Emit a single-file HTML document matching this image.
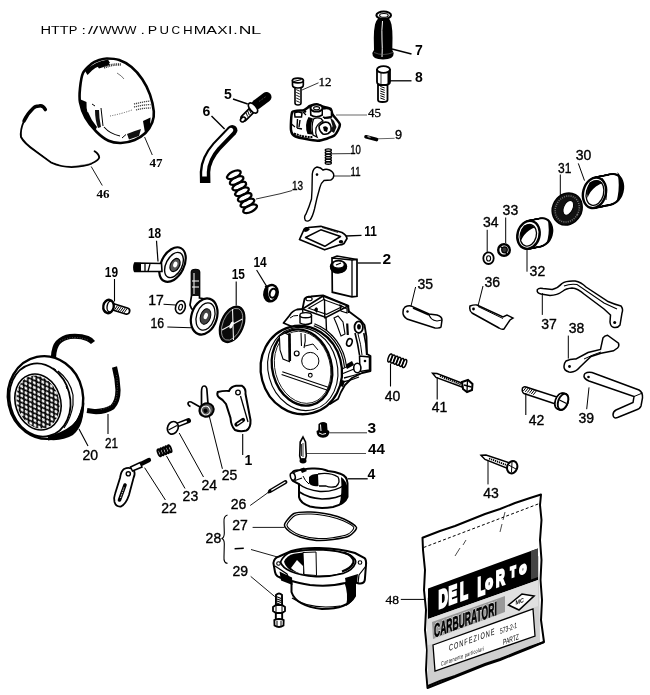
<!DOCTYPE html>
<html><head><meta charset="utf-8"><style>
html,body{margin:0;padding:0;background:#fff;}
svg{display:block;will-change:transform;}
</style></head><body>
<svg width="650" height="695" viewBox="0 0 650 695">
<rect width="650" height="695" fill="#fff"/>
<g font-family="Liberation Sans" font-size="10.6"><text transform="translate(40.60 33.8) scale(1.384 1)">H</text><text transform="translate(51.09 33.8) scale(1.350 1)">T</text><text transform="translate(59.68 33.8) scale(1.367 1)">T</text><text transform="translate(68.84 33.8) scale(1.224 1)">P</text><text transform="translate(81.55 33.8) scale(1.500 1)">:</text><text transform="translate(88.00 33.8) scale(1.697 1)">/</text><text transform="translate(92.80 33.8) scale(1.866 1)">/</text><text transform="translate(99.14 33.8) scale(1.221 1)">W</text><text transform="translate(111.23 33.8) scale(1.302 1)">W</text><text transform="translate(124.14 33.8) scale(1.221 1)">W</text><text transform="translate(140.55 33.8) scale(1.500 1)">.</text><text transform="translate(147.84 33.8) scale(1.330 1)">P</text><text transform="translate(159.48 33.8) scale(1.246 1)">U</text><text transform="translate(171.40 33.8) scale(1.118 1)">C</text><text transform="translate(182.90 33.8) scale(1.266 1)">H</text><text transform="translate(193.75 33.8) scale(1.438 1)">M</text><text transform="translate(206.27 33.8) scale(1.523 1)">A</text><text transform="translate(217.24 33.8) scale(1.469 1)">X</text><text transform="translate(228.04 33.8) scale(1.500 1)">I</text><text transform="translate(233.35 33.8) scale(1.500 1)">.</text><text transform="translate(238.76 33.8) scale(1.654 1)">N</text><text transform="translate(251.09 33.8) scale(1.733 1)">L</text></g><path d="M106.9,58.5 C110.2,58.5 115.1,58.6 119.2,60.0 C123.3,61.4 127.7,63.8 131.5,67.0 C135.3,70.2 139.2,74.6 142.3,79.2 C145.4,83.8 148.1,89.2 150.0,94.6 C151.9,100.0 153.4,106.9 153.8,111.5 C154.2,116.1 153.7,118.7 152.3,122.3 C150.9,125.9 148.4,130.1 145.4,133.0 C142.4,135.9 138.7,138.3 134.6,140.0 C130.5,141.7 125.1,142.9 120.8,143.0 C116.5,143.1 112.6,142.7 108.5,140.8 C104.4,138.9 100.0,135.3 96.2,131.5 C92.4,127.7 88.1,122.6 85.4,117.7 C82.7,112.8 80.9,107.2 80.0,102.3 C79.1,97.4 79.5,93.4 80.0,88.5 C80.5,83.6 81.1,77.1 83.0,73.0 C84.9,68.9 88.8,66.0 91.5,63.8 C94.2,61.6 96.6,60.9 99.2,60.0 C101.8,59.1 103.6,58.5 106.9,58.5Z" fill="#fff" stroke="#000" stroke-width="2.6"/><path d="M85,71 Q94,61.5 108,59.5 L110,63 Q99,64.5 92,70.5 L87.5,75 Z" fill="#000"/><path d="M97,66 L108,61.5 L110,65 L99,68.5 Z" fill="#000"/><path d="M104,67.5 Q112,64 121,64.5" fill="none" stroke="#333" stroke-width="2.6" stroke-dasharray="1 0.8"/><path d="M79.5,99 Q80,110 85,117 L88,115 Q86,108 86.5,102 Z" fill="#000"/><path d="M84,113 Q88,123 95,131 L97,127 Q91,120 88,112 Z" fill="#000"/><path d="M95,110 Q95,120 98,128 L101,127 Q99,118 99,110 Z" fill="#111"/><path d="M101,108 L103,126" stroke="#000" stroke-width="1"/><path d="M92,104 L95,106" stroke="#000" stroke-width="1"/><path d="M143,121 L150.5,117.5 L150,127 L145,133 Z" fill="#000"/><path d="M127,134 Q134,131 141,129 L139,136 L129,139.5 Z" fill="#111"/><path d="M122,138 L126,134.5" stroke="#000" stroke-width="1"/><path d="M104,127 Q110,134 120,136" fill="none" stroke="#000" stroke-width="1.1"/><path d="M134,104 Q142,102 150,101 M134,107 Q142,105 150.5,104.5 M136,110 Q143,108 150.5,108" fill="none" stroke="#444" stroke-width="1.3" stroke-dasharray="1.2 0.8"/><path d="M110,116 Q121,114 132,110" fill="none" stroke="#555" stroke-width="1" stroke-dasharray="1 1.4"/><path d="M117,73 Q122,76 124,79" fill="none" stroke="#555" stroke-width="0.8"/><path d="M144.6,137 L152.3,155" fill="none" stroke="#000" stroke-width="0.9"/><text x="149.5" y="167.3" font-family="Liberation Serif" font-weight="bold" font-size="13">47</text><path d="M45.4,109.6 Q43,105 39,106 Q35,106 33,108.5 Q27,114 24,121 Q20,130 21,137 Q24,143 34.6,150.4 L51.5,162.7 Q61,167 71.5,167 Q85,166 91.5,163.5 Q99,160 99.2,157.5 Q99,154 94.6,151.2" fill="none" stroke="#000" stroke-width="1.9" stroke-linecap="round" stroke-linejoin="round"/><path d="M45.4,109.6 Q43,105 39,106 Q35,106 33,108.5 Q27,114 24,121" fill="none" stroke="#000" stroke-width="3.4" stroke-linecap="round"/><path d="M24,135 Q25,141 35,149 L52,161.5 Q61,165.8 71.5,165.8 Q85,165 91.5,162.5" fill="none" stroke="#fff" stroke-width="0.6"/><path d="M91.2,166.5 L102.3,185.5" fill="none" stroke="#000" stroke-width="0.9"/><text x="96.5" y="197.6" font-family="Liberation Serif" font-weight="bold" font-size="13">46</text><path d="M378.5,18 Q376,20.5 375,24.5 Q373.8,30 373.8,38 L374,50 L372.3,53 Q372,59.5 383,59.5 Q394,59.5 393.7,53 L392.3,50 L392.5,38 Q392.5,30 391.5,24.5 Q390.5,20.5 388.7,18 Z" fill="#000"/><ellipse cx="383.7" cy="15.2" rx="7.3" ry="3.7" fill="#fff" stroke="#000" stroke-width="2.1"/><ellipse cx="383.9" cy="15.4" rx="4.3" ry="1.9" fill="#fff" stroke="#000" stroke-width="1.1"/><path d="M382.5,21 Q381.5,30 382,40 Q382.5,48 382,57" fill="none" stroke="#fff" stroke-width="1"/><path d="M374,52.5 Q383,56.5 393,52.5" fill="none" stroke="#777" stroke-width="0.6"/><path d="M392,49 L411.5,54" fill="none" stroke="#000" stroke-width="1.3"/><text x="415" y="55.2" font-family="Liberation Sans" font-weight="bold" font-size="14">7</text><path d="M378,85 L378,100 Q378,102 382.5,102 Q387.5,102 387.5,100 L387.5,85 Z" fill="#fff" stroke="#000" stroke-width="1.8"/><path d="M384.7,88.0L380.3,86.4M384.7,90.3L380.3,88.7M384.7,92.6L380.3,91.0M384.7,95.0L380.3,93.4M384.7,97.3L380.3,95.7M384.7,99.6L380.3,98.0" stroke="#000" stroke-width="1.0" fill="none"/><path d="M377,70 L377,82 Q377,85 383.5,85 Q390,85 390,82 L390,70 Z" fill="#fff" stroke="#000" stroke-width="1.8"/><rect x="387.5" y="70" width="2.5" height="14" fill="#000"/><ellipse cx="383.5" cy="69.5" rx="6.5" ry="3.3" fill="#fff" stroke="#000" stroke-width="1.8"/><path d="M381,72 L381,84" stroke="#000" stroke-width="0.8"/><path d="M390,80.8 L411.5,80.8" fill="none" stroke="#000" stroke-width="1.3"/><text x="415" y="82.2" font-family="Liberation Sans" font-weight="bold" font-size="14">8</text><path d="M295,87 L295,103 Q295,105 298,105 Q301,105 301,103 L301,87 Z" fill="#fff" stroke="#000" stroke-width="1.6"/><path d="M299.8,91.2L296.2,89.6M299.8,94.0L296.2,92.4M299.8,96.8L296.2,95.2M299.8,99.6L296.2,98.0M299.8,102.4L296.2,100.8" stroke="#000" stroke-width="0.9" fill="none"/><path d="M292.5,80.5 L292.5,85 Q292.5,88 298,88 Q303.3,88 303.3,85 L303.3,80.5 Z" fill="#fff" stroke="#000" stroke-width="1.7"/><ellipse cx="297.9" cy="80.5" rx="5.4" ry="2.4" fill="#fff" stroke="#000" stroke-width="1.7"/><path d="M294,81.5 L301.5,79.5" stroke="#000" stroke-width="1.1"/><path d="M302,90 L318.5,82.8" fill="none" stroke="#000" stroke-width="0.8"/><text x="318.6" y="86.3" font-family="Liberation Serif" font-weight="normal" stroke="#000" stroke-width="0.3" font-size="13">12</text><path d="M292.3,112.0 C293.6,110.0 302.0,110.8 303.8,110.2 C305.6,109.6 308.6,106.6 309.9,106.0 C311.2,105.4 315.6,104.2 316.8,104.2 C318.0,104.2 320.9,106.0 322.3,106.5 C323.7,107.0 329.6,108.0 330.6,108.8 C331.6,109.6 331.6,112.8 332.5,114.4 C333.4,116.0 339.7,122.4 339.9,124.5 C340.1,126.6 336.5,134.0 334.3,135.6 C332.1,137.2 321.6,140.6 317.7,140.7 C313.8,140.8 298.2,137.6 295.5,136.5 C292.8,135.4 291.3,132.4 291.0,130.0 C290.7,127.5 291.0,114.0 292.3,112.0Z" fill="#fff" stroke="#000" stroke-width="2.5"/><path d="M310.5,108 L310.8,115 Q316,118.5 322.3,115 L322.5,108" fill="#fff" stroke="#000" stroke-width="1.6"/><ellipse cx="316.5" cy="108" rx="6" ry="3.6" fill="#fff" stroke="#000" stroke-width="2"/><ellipse cx="316.6" cy="108.2" rx="3" ry="1.6" fill="none" stroke="#000" stroke-width="1.1"/><path d="M323,109 Q329,107 331.5,111 L331.5,117 Q327,119 323,117" fill="#fff" stroke="#000" stroke-width="1.6"/><path d="M308.5,117 Q304,125 307.5,134 L312.5,134.5 Q309.5,126 313,118.5 Z" fill="#000"/><path d="M313.5,119 Q317,117 321,118.5 L323,121 Q318,123 316,128 Q315,133 317,137 L313,135 Q311,126 313.5,119 Z" fill="#fff" stroke="#000" stroke-width="1.3"/><path d="M319,126 Q323,121 328,122.5 Q332,125 331,131 Q328,135 323,134 Q319,131 319,126 Z" fill="#fff" stroke="#000" stroke-width="1.6"/><path d="M323,127 Q326,125 328,128 L327,132 L324,131 Z" fill="#000"/><path d="M330,117 L334,121 L336.5,127 L334,133 L331,131 L332.5,126 Z" fill="#111"/><path d="M324,118 L331,117" stroke="#000" stroke-width="2"/><path d="M294.5,113 Q298,111 302,113 L301.5,117 L295,117 Z" fill="#fff" stroke="#000" stroke-width="1.5"/><path d="M297.5,119 L297,128 M300,120 L299,127 M297,128 L302,129" stroke="#000" stroke-width="1.4"/><path d="M294,133.5 Q304,137.5 313,137" fill="none" stroke="#000" stroke-width="2" stroke-dasharray="2 0.8"/><path d="M303,112 L306,115 M291.5,124 L295,127" stroke="#000" stroke-width="1.2"/><circle cx="305" cy="111.5" r="1.3" fill="#000"/><path d="M336,115 L367,115" fill="none" stroke="#000" stroke-width="0.6"/><text x="368" y="117" font-family="Liberation Serif" font-weight="normal" stroke="#000" stroke-width="0.3" font-size="13">45</text><line x1="366" y1="136.8" x2="376.5" y2="139.6" stroke="#000" stroke-width="3.6" stroke-linecap="round"/><line x1="367.5" y1="136.6" x2="370.5" y2="137.3" stroke="#fff" stroke-width="0.8"/><path d="M377,138.8 L394.6,138.3" fill="none" stroke="#000" stroke-width="0.6"/><text x="0" y="0" transform="translate(395 138.8) scale(1.02 1)" font-family="Liberation Sans" font-weight="normal" stroke="#000" stroke-width="0.35" font-size="12.5">9</text><ellipse cx="328.3" cy="150.1" rx="1.25" ry="3.10" transform="rotate(90.0 328.3 150.1)" fill="none" stroke="#000" stroke-width="1.3"/><ellipse cx="328.3" cy="152.7" rx="1.25" ry="3.10" transform="rotate(90.0 328.3 152.7)" fill="none" stroke="#000" stroke-width="1.3"/><ellipse cx="328.3" cy="155.3" rx="1.25" ry="3.10" transform="rotate(90.0 328.3 155.3)" fill="none" stroke="#000" stroke-width="1.3"/><ellipse cx="328.3" cy="157.8" rx="1.25" ry="3.10" transform="rotate(90.0 328.3 157.8)" fill="none" stroke="#000" stroke-width="1.3"/><ellipse cx="328.3" cy="160.4" rx="1.25" ry="3.10" transform="rotate(90.0 328.3 160.4)" fill="none" stroke="#000" stroke-width="1.3"/><ellipse cx="328.3" cy="163.0" rx="1.25" ry="3.10" transform="rotate(90.0 328.3 163.0)" fill="none" stroke="#000" stroke-width="1.3"/><path d="M331.5,153.8 L350.8,153.6" fill="none" stroke="#000" stroke-width="0.8"/><text x="0" y="0" transform="translate(350.2 153.6) scale(0.8 1)" font-family="Liberation Sans" font-weight="normal" stroke="#000" stroke-width="0.35" font-size="12">10</text><path d="M305.4,220.5 Q303.5,217 306,214 Q309.5,206 311.5,199 L312,190 L312.3,174 Q313,168 317,167 Q321,167.5 323,170 Q326,168.5 329.5,170 Q333.8,172 333.8,175.5 Q333.5,179 330.8,180 L324,180.5 Q321,183 320,187 Q316.5,199 314.5,209 Q312.5,217 310,220 Q307.5,222 305.4,220.5 Z" fill="#fff" stroke="#000" stroke-width="1.4"/><circle cx="317" cy="174.6" r="1.3" fill="#000"/><path d="M333.8,176 L350.8,176" fill="none" stroke="#000" stroke-width="0.8"/><text x="0" y="0" transform="translate(350.6 176.2) scale(0.8 1)" font-family="Liberation Sans" font-weight="normal" stroke="#000" stroke-width="0.35" font-size="12">11</text><ellipse cx="233.9" cy="174.8" rx="3.30" ry="7.40" transform="rotate(64.3 233.9 174.8)" fill="none" stroke="#000" stroke-width="2.3"/><ellipse cx="236.6" cy="180.5" rx="3.30" ry="7.40" transform="rotate(64.3 236.6 180.5)" fill="none" stroke="#000" stroke-width="2.3"/><ellipse cx="239.3" cy="186.1" rx="3.30" ry="7.40" transform="rotate(64.3 239.3 186.1)" fill="none" stroke="#000" stroke-width="2.3"/><ellipse cx="242.0" cy="191.8" rx="3.30" ry="7.40" transform="rotate(64.3 242.0 191.8)" fill="none" stroke="#000" stroke-width="2.3"/><ellipse cx="244.7" cy="197.4" rx="3.30" ry="7.40" transform="rotate(64.3 244.7 197.4)" fill="none" stroke="#000" stroke-width="2.3"/><ellipse cx="247.4" cy="203.0" rx="3.30" ry="7.40" transform="rotate(64.3 247.4 203.0)" fill="none" stroke="#000" stroke-width="2.3"/><ellipse cx="250.1" cy="208.7" rx="3.30" ry="7.40" transform="rotate(64.3 250.1 208.7)" fill="none" stroke="#000" stroke-width="2.3"/><path d="M256,199 L280,193.8 L292.3,190.5" fill="none" stroke="#000" stroke-width="0.8"/><text x="0" y="0" transform="translate(292 190) scale(0.8 1)" font-family="Liberation Sans" font-weight="normal" stroke="#000" stroke-width="0.35" font-size="12.5">13</text><line x1="244" y1="118" x2="251.5" y2="110.5" stroke="#000" stroke-width="7.5" stroke-linecap="round"/><line x1="244.5" y1="117.5" x2="251.5" y2="110.5" stroke="#fff" stroke-width="4" stroke-linecap="round"/><path d="M246.0,112.7L247.7,116.6M247.7,111.0L249.3,115.0M249.3,109.4L251.0,113.3" stroke="#000" stroke-width="1.0" fill="none"/><line x1="256.5" y1="104.5" x2="266.5" y2="97" stroke="#000" stroke-width="10" stroke-linecap="round"/><path d="M259,101.5 L266,96.5" stroke="#555" stroke-width="1" stroke-dasharray="1 1"/><ellipse cx="253" cy="108" rx="3.2" ry="6" transform="rotate(-40 253 108)" fill="#fff" stroke="#000" stroke-width="1.8"/><ellipse cx="243" cy="119.5" rx="2.8" ry="2" transform="rotate(-40 243 119.5)" fill="#fff" stroke="#000" stroke-width="1.6"/><path d="M233,99 L247.7,104" fill="none" stroke="#000" stroke-width="1.4"/><text x="224" y="99" font-family="Liberation Sans" font-weight="bold" font-size="14">5</text><path d="M232,130.5 L217,146 Q205.5,159 205,172 L205.2,183" fill="none" stroke="#000" stroke-width="10.5" stroke-linecap="butt"/><circle cx="232.2" cy="130.3" r="5.25" fill="#000"/><path d="M231,130.2 L216.2,145.6 Q205,158.5 204.5,172 L204.5,177" fill="none" stroke="#fff" stroke-width="4.6" stroke-linecap="round"/><rect x="201.5" y="176.5" width="7.5" height="5" fill="#000"/><path d="M211.5,116 L224.6,129" fill="none" stroke="#000" stroke-width="1.4"/><text x="202.5" y="116" font-family="Liberation Sans" font-weight="bold" font-size="14">6</text><path d="M299.5,239.5 L304,229.5 Q305,227.5 308,227.5 L320.8,226.3 L342,232.5 Q346.5,235 347,238.5 L344,243.5 Q342,245 339,245 L324.6,249.8 Z" fill="#fff" stroke="#000" stroke-width="1.7" stroke-linejoin="round"/><path d="M305.5,237.5 L320.8,229.8 L340.5,236.5 L324.8,246.3 Z" fill="#fff" stroke="#000" stroke-width="1.5" stroke-linejoin="round"/><path d="M303.5,229 Q307,226.5 310,229 Q308,232 304.5,232 Z" fill="#000"/><ellipse cx="341" cy="241.8" rx="2.2" ry="1.7" fill="#000"/><path d="M322,227.5 L338,232.5" stroke="#000" stroke-width="0.8"/><path d="M346,236 L361.5,235.3" fill="none" stroke="#000" stroke-width="1.3"/><text x="0" y="0" transform="translate(364.2 236.2) scale(0.85 1)" font-family="Liberation Sans" font-weight="bold" font-size="14">11</text><path d="M332,258 L352,260 L357,259.5 L357,296.3 L352,296.8 L332.3,292.2 Z" fill="#fff" stroke="#000" stroke-width="1.7"/><path d="M352,260 L352,296.8" stroke="#000" stroke-width="1.3"/><path d="M332,258 L337,256 L357,259.5" fill="none" stroke="#000" stroke-width="1.5"/><ellipse cx="338.5" cy="266.5" rx="8" ry="6" fill="#000" stroke="#000" stroke-width="1.5"/><ellipse cx="338.5" cy="264.6" rx="5.8" ry="3.6" fill="#fff" stroke="#000" stroke-width="1.2"/><path d="M336,265 L341,263" stroke="#000" stroke-width="1.2"/><path d="M331,268 Q333,273 339,272.5 Q344,272 346,268" fill="none" stroke="#000" stroke-width="2.2"/><path d="M357.7,263 L380.8,263" fill="none" stroke="#000" stroke-width="1.3"/><text x="382.4" y="263.9" font-family="Liberation Sans" font-weight="bold" font-size="15.5">2</text><ellipse cx="172.5" cy="264.6" rx="11.5" ry="18.5" transform="rotate(27 172.5 264.6)" fill="#fff" stroke="#000" stroke-width="2.2"/><ellipse cx="174" cy="265" rx="8" ry="13.5" transform="rotate(27 174 265)" fill="none" stroke="#000" stroke-width="1.4"/><ellipse cx="175" cy="265" rx="4.5" ry="7" transform="rotate(27 175 265)" fill="#555" stroke="#000" stroke-width="1.2"/><ellipse cx="175.3" cy="264.5" rx="2" ry="3" transform="rotate(20 175.3 264.5)" fill="#fff"/><path d="M135,263 L161.5,263.5 L162,271.5 L135,271.5 Z" fill="#fff" stroke="#000" stroke-width="1.6"/><path d="M134,262.8 L141,262.8 L141,272 L134,272 Q132,267.5 134,262.8 Z" fill="#000"/><path d="M145,263 L145,271.5 M150,264 L148,271.5" stroke="#000" stroke-width="1.3"/><path d="M156.5,240.8 L158,261.5" fill="none" stroke="#000" stroke-width="1.2"/><text x="0" y="0" transform="translate(148 237.7) scale(0.85 1)" font-family="Liberation Sans" font-weight="bold" font-size="14">18</text><line x1="112" y1="306.5" x2="126.5" y2="311" stroke="#000" stroke-width="8" stroke-linecap="round"/><line x1="112" y1="306.5" x2="126.5" y2="311" stroke="#fff" stroke-width="4.5" stroke-linecap="round"/><path d="M117.4,305.7L114.5,309.9M119.3,306.3L116.4,310.4M121.3,306.9L118.3,311.0M123.2,307.5L120.2,311.6M125.1,308.1L122.2,312.2M127.0,308.6L124.1,312.8" stroke="#000" stroke-width="1.0" fill="none"/><ellipse cx="108.5" cy="306.5" rx="5.2" ry="6.8" transform="rotate(10 108.5 306.5)" fill="#fff" stroke="#000" stroke-width="2.3"/><ellipse cx="110.5" cy="306.5" rx="3.4" ry="5.5" transform="rotate(10 110.5 306.5)" fill="none" stroke="#000" stroke-width="1.4"/><path d="M104,303 L107,301 M104,310 L106.5,312" stroke="#000" stroke-width="1.2"/><path d="M114.5,279 L114.5,301.5" fill="none" stroke="#000" stroke-width="1.1"/><text x="0" y="0" transform="translate(104.8 277) scale(0.85 1)" font-family="Liberation Sans" font-weight="bold" font-size="14">19</text><ellipse cx="180.4" cy="307.2" rx="4.8" ry="6.6" transform="rotate(15 180.4 307.2)" fill="#fff" stroke="#000" stroke-width="1.6"/><ellipse cx="180.6" cy="307.2" rx="1.8" ry="3" transform="rotate(15 180.6 307.2)" fill="none" stroke="#000" stroke-width="1.2"/><path d="M163.5,304.3 L175.8,305" fill="none" stroke="#000" stroke-width="1.1"/><text x="148.2" y="305" font-family="Liberation Sans" font-weight="normal" stroke="#000" stroke-width="0.35" font-size="14">17</text><path d="M191.5,272 L191.5,296 L190,305 Q192,312 199,312 L212,305 Q206,298 199.5,298 L199.5,272 Q199.5,269.5 195.5,269.5 Q191.5,269.5 191.5,272 Z" fill="#fff" stroke="#000" stroke-width="1.7"/><path d="M191.5,272 L191.5,296 L199.5,296 L199.5,272 Q199.5,269.5 195.5,269.5 Q191.5,269.5 191.5,272 Z" fill="#111"/><path d="M194,273 L194,294 M192,281 L199,281 M192,287 L199,287" stroke="#fff" stroke-width="1"/><ellipse cx="204.2" cy="316.5" rx="12.7" ry="18.5" transform="rotate(18 204.2 316.5)" fill="#fff" stroke="#000" stroke-width="2.2"/><ellipse cx="205.5" cy="316.5" rx="9" ry="14" transform="rotate(18 205.5 316.5)" fill="none" stroke="#000" stroke-width="1.3"/><ellipse cx="205.5" cy="316.5" rx="5" ry="8" transform="rotate(18 205.5 316.5)" fill="#444" stroke="#000" stroke-width="1"/><ellipse cx="205.8" cy="316" rx="2" ry="3.2" transform="rotate(18 205.8 316)" fill="#fff"/><path d="M167.3,327 L191,327.7" fill="none" stroke="#000" stroke-width="1.1"/><text x="0" y="0" transform="translate(150.5 327.7) scale(0.88 1)" font-family="Liberation Sans" font-weight="normal" stroke="#000" stroke-width="0.35" font-size="14">16</text><ellipse cx="232.1" cy="324.3" rx="11.3" ry="19" transform="rotate(22 232.1 324.3)" fill="#0a0a0a" stroke="#000" stroke-width="1.5"/><ellipse cx="232.1" cy="324.3" rx="9.3" ry="16.8" transform="rotate(22 232.1 324.3)" fill="none" stroke="#bbb" stroke-width="0.7"/><path d="M222,330 L242.4,319 M232.5,309 L233.5,340" stroke="#eee" stroke-width="1.1"/><ellipse cx="231.5" cy="325" rx="1.6" ry="3.8" transform="rotate(22 231.5 325)" fill="#fff"/><path d="M236.2,281.5 L236.2,305.4" fill="none" stroke="#000" stroke-width="1.1"/><text x="0" y="0" transform="translate(231.7 279.2) scale(0.85 1)" font-family="Liberation Sans" font-weight="bold" font-size="14">15</text><ellipse cx="271" cy="293.2" rx="6.6" ry="8.3" transform="rotate(15 271 293.2)" fill="#fff" stroke="#000" stroke-width="2.4"/><path d="M264.5,290 Q263,298 267,301.5 Q270,302.5 272,301.5 Q267,297 268.5,287.5 Z" fill="#000"/><ellipse cx="273" cy="293.2" rx="3.2" ry="4.6" transform="rotate(15 273 293.2)" fill="#fff" stroke="#000" stroke-width="2"/><path d="M265,287 L267,286" stroke="#000" stroke-width="1.5"/><path d="M256.6,270 L266.8,286.6" fill="none" stroke="#000" stroke-width="1.1"/><text x="0" y="0" transform="translate(253.5 267) scale(0.85 1)" font-family="Liberation Sans" font-weight="bold" font-size="14">14</text><ellipse cx="45.5" cy="397.5" rx="37.5" ry="41.5" transform="rotate(-12 45.5 397.5)" fill="#fff" stroke="#000" stroke-width="2.4"/><path d="M52,436 Q70,432 78,418 L83.5,402 Q85,425 73,435 Q63,441 50,440 Z" fill="#000"/><ellipse cx="40" cy="400" rx="30" ry="37" transform="rotate(-15 40 400)" fill="#fff" stroke="#000" stroke-width="1.8"/><path d="M58,371 Q70,380 73,395 L73,405 Q71,418 64,428" fill="none" stroke="#000" stroke-width="1.2"/><ellipse cx="38" cy="402" rx="22.5" ry="28.5" transform="rotate(-18 38 402)" fill="#fff" stroke="#000" stroke-width="1.6"/><defs><pattern id="mesh" width="5" height="8" patternUnits="userSpaceOnUse" patternTransform="rotate(-15)"><rect width="5" height="8" fill="#fff"/><path d="M0,0 L2.5,4 L0,8 M5,0 L2.5,4 L5,8" fill="none" stroke="#000" stroke-width="1.6"/></pattern></defs><ellipse cx="38" cy="402" rx="21" ry="27" transform="rotate(-18 38 402)" fill="url(#mesh)"/><path d="M53,368 L56,370 M60,376 L62,378 M66,386 L67,389" stroke="#000" stroke-width="1"/><path d="M48,440.5 Q66,439 77,428 Q84,418 84.5,402 Q81,417 72,425 Q62,433 48,436 Z" fill="#000"/><path d="M79,429 L88,446" fill="none" stroke="#000" stroke-width="1.1"/><text x="82.5" y="459.6" font-family="Liberation Sans" font-weight="normal" stroke="#000" stroke-width="0.35" font-size="14">20</text><path d="M53.5,357 Q54,347 58,342.5 Q63,337.5 70,336.5 Q80,335.5 87.5,338.5 Q91,340 93,342.5" fill="none" stroke="#000" stroke-width="5.2" stroke-linecap="butt"/><path d="M60,341 Q66,338 74,337.5 Q82,337.5 88,340" fill="none" stroke="#777" stroke-width="0.7" stroke-dasharray="1 1.5"/><path d="M114.5,367 Q117.5,378 118,390 Q118,401 112.5,407 Q105,412 94,411.5 L87,410.5" fill="none" stroke="#000" stroke-width="5.2" stroke-linecap="butt"/><path d="M116.5,375 Q118.5,388 116,400 Q111,408 100,409.5" fill="none" stroke="#777" stroke-width="0.7" stroke-dasharray="1 1.5"/><path d="M108,414 L108,434" fill="none" stroke="#000" stroke-width="1.1"/><text x="0" y="0" transform="translate(105 448) scale(0.84 1)" font-family="Liberation Sans" font-weight="normal" stroke="#000" stroke-width="0.35" font-size="14">21</text><path d="M217.7,392 Q224,390.5 229,391 Q231,386.5 236,385.8 L242,385.8 Q246,388 245.5,394 L250.5,420 Q251,428 246.3,430.5 Q240,432 235,430 Q231,426 230.5,418 L226,404 Q223,399.5 219,397.5 Q216.5,395 217.7,392 Z" fill="#fff" stroke="#000" stroke-width="2"/><circle cx="238" cy="392.5" r="2.3" fill="none" stroke="#000" stroke-width="1.3"/><path d="M240.5,396 L248,422" stroke="#000" stroke-width="1.3"/><path d="M236.5,424.5 L243,420" stroke="#000" stroke-width="4.2" stroke-linecap="round"/><path d="M237.5,424 L242,421" stroke="#fff" stroke-width="1.2" stroke-linecap="round"/><path d="M242.7,434 L242.7,455" fill="none" stroke="#000" stroke-width="1.1"/><text x="244.5" y="465.4" font-family="Liberation Sans" font-weight="bold" font-size="14">1</text><path d="M201.5,406 L201.5,392 Q201.5,386 204,386 Q207,386 207,391 L208,404" fill="none" stroke="#000" stroke-width="1.7"/><path d="M200,407 L193,403 Q189,400.5 188,403 Q188,405.5 190.5,406.5" fill="none" stroke="#000" stroke-width="1.7"/><ellipse cx="206.5" cy="410" rx="7.3" ry="6.6" transform="rotate(-30 206.5 410)" fill="#555" stroke="#000" stroke-width="2"/><ellipse cx="205.8" cy="410.5" rx="4.2" ry="4.4" transform="rotate(-30 205.8 410.5)" fill="none" stroke="#fff" stroke-width="1"/><ellipse cx="205.5" cy="410.7" rx="2" ry="2.2" transform="rotate(-30 205.5 410.7)" fill="#000"/><path d="M209.2,415.8 L222.4,468.8" fill="none" stroke="#000" stroke-width="1.0"/><text x="221.8" y="480.4" font-family="Liberation Sans" font-weight="normal" stroke="#000" stroke-width="0.35" font-size="14">25</text><line x1="176" y1="425.5" x2="188.5" y2="420.6" stroke="#000" stroke-width="5" stroke-linecap="round"/><line x1="176" y1="425.5" x2="186" y2="421.6" stroke="#fff" stroke-width="2" stroke-linecap="round"/><ellipse cx="172.8" cy="427.8" rx="5.2" ry="6.5" transform="rotate(25 172.8 427.8)" fill="#fff" stroke="#000" stroke-width="1.7"/><path d="M168.5,430 L177,425.5" stroke="#000" stroke-width="1.3"/><path d="M179.2,433 L203.5,477" fill="none" stroke="#000" stroke-width="1.0"/><text x="201.5" y="489.6" font-family="Liberation Sans" font-weight="normal" stroke="#000" stroke-width="0.35" font-size="14">24</text><ellipse cx="159.3" cy="452.8" rx="1.30" ry="3.80" transform="rotate(-21.4 159.3 452.8)" fill="none" stroke="#000" stroke-width="1.9"/><ellipse cx="161.9" cy="451.8" rx="1.30" ry="3.80" transform="rotate(-21.4 161.9 451.8)" fill="none" stroke="#000" stroke-width="1.9"/><ellipse cx="164.5" cy="450.8" rx="1.30" ry="3.80" transform="rotate(-21.4 164.5 450.8)" fill="none" stroke="#000" stroke-width="1.9"/><ellipse cx="167.1" cy="449.7" rx="1.30" ry="3.80" transform="rotate(-21.4 167.1 449.7)" fill="none" stroke="#000" stroke-width="1.9"/><ellipse cx="169.7" cy="448.7" rx="1.30" ry="3.80" transform="rotate(-21.4 169.7 448.7)" fill="none" stroke="#000" stroke-width="1.9"/><path d="M166.5,456 L185,488.5" fill="none" stroke="#000" stroke-width="1.0"/><text x="182.6" y="501.2" font-family="Liberation Sans" font-weight="normal" stroke="#000" stroke-width="0.35" font-size="14">23</text><path d="M124,469 Q130,466 134,470.5 Q135.5,474 133.5,478 L129,495 Q126,504 121,506.5 Q116,507 114.5,502 Q113.5,498 115,494 L120,478 Q121,471 124,469 Z" fill="#fff" stroke="#000" stroke-width="1.8"/><circle cx="128.3" cy="473.8" r="2.1" fill="none" stroke="#000" stroke-width="1.4"/><path d="M119.5,500 L125,485" stroke="#000" stroke-width="3.6" stroke-linecap="round"/><path d="M120.5,498 L124,487.5" stroke="#fff" stroke-width="0.9" stroke-dasharray="1.5 1"/><line x1="141" y1="464" x2="149" y2="460" stroke="#000" stroke-width="4.2" stroke-linecap="round"/><path d="M130.5,467 L140,462.5 L142,467 L132.5,471 Z" fill="#fff" stroke="#000" stroke-width="1.5"/><path d="M144.6,467.7 L165.4,500" fill="none" stroke="#000" stroke-width="1.0"/><text x="161.3" y="512.7" font-family="Liberation Sans" font-weight="normal" stroke="#000" stroke-width="0.35" font-size="14">22</text><path d="M318.5,424 Q322.5,420.5 327,423.5 L327.5,430 L318.3,430 Z" fill="#000"/><path d="M316.5,431 Q316.5,437.8 323,437.8 Q329.5,437.8 329.3,431 Q323,426.5 316.5,431 Z" fill="#000"/><path d="M320.5,424.5 L321,431 M319,433 Q322,435.5 326,433.5" stroke="#fff" stroke-width="1" fill="none"/><path d="M329,432.8 L367,432.8" fill="none" stroke="#000" stroke-width="0.8"/><text x="367.6" y="432.7" font-family="Liberation Sans" font-weight="bold" font-size="15.5">3</text><path d="M303,437 L305.5,442 L306.3,456 L305.5,459 L300.5,459 L299.7,456 L300.2,442 Z" fill="#fff" stroke="#000" stroke-width="1.6"/><path d="M301.5,444 L301.5,456 M303,443 L303,457" stroke="#000" stroke-width="0.8"/><ellipse cx="303" cy="461" rx="3.5" ry="2.4" fill="#000"/><path d="M306.5,453.5 L366,453.5" fill="none" stroke="#000" stroke-width="0.7"/><text x="0" y="0" transform="translate(368 454.4) scale(1.08 1)" font-family="Liberation Sans" font-weight="bold" font-size="14">44</text><path d="M292,474 Q291,479 293,481 L299,484 L299,497 Q300,503 310,506.5 Q320,509 333,507 Q345,504 347.5,497 L347.5,483 Q347,476 341,474 Q335,471.5 328,471 Q322,468 312,468.5 Q304,469 300,470 L296,470.5 Q292,471 292,474 Z" fill="#fff" stroke="#000" stroke-width="2"/><path d="M299,484 Q306,490 320,491.5 Q336,492 345.5,484" fill="none" stroke="#000" stroke-width="1.4"/><path d="M299.5,492 Q308,498 322,499 Q337,499 346,493" fill="none" stroke="#000" stroke-width="1.6"/><path d="M309,477 Q312,473.5 318,474 L318.5,486 Q312,487 309,483 Z" fill="#000"/><path d="M318,474 Q330,472 338,477 Q341,482 336,486.5 Q330,488 326,486 L319,486" fill="none" stroke="#000" stroke-width="1.3"/><path d="M341,477 Q347.5,481 347.5,490 L347.5,497 Q346,503 339,505.5 Q342.5,495 341,477 Z" fill="#000"/><ellipse cx="292.8" cy="476.5" rx="2.4" ry="3.8" transform="rotate(-15 292.8 476.5)" fill="#fff" stroke="#000" stroke-width="1.5"/><path d="M294,472.5 L301,469.5 M295,480.5 L302,478" stroke="#000" stroke-width="1.3"/><path d="M300,469 L304,467.5 L307,471 L302,473 Z" fill="#000"/><path d="M303,476 Q305,481 309,484" fill="none" stroke="#000" stroke-width="1"/><path d="M347.7,478.8 L367.7,478.8" fill="none" stroke="#000" stroke-width="1.3"/><text x="367.5" y="479.2" font-family="Liberation Sans" font-weight="bold" font-size="14">4</text><line x1="270" y1="491.2" x2="285.5" y2="482" stroke="#000" stroke-width="3.8" stroke-linecap="round"/><line x1="271.5" y1="490.3" x2="285" y2="482.3" stroke="#fff" stroke-width="1.3" stroke-linecap="round"/><path d="M268,493 L271,490" stroke="#000" stroke-width="2"/><path d="M250.2,505.5 L268,492.6" fill="none" stroke="#000" stroke-width="0.9"/><text x="230.8" y="509.4" font-family="Liberation Sans" font-weight="normal" stroke="#000" stroke-width="0.35" font-size="14">26</text><path d="M284.5,524.6 C285.0,522.4 290.9,515.0 294.0,513.5 C297.1,512.0 306.6,511.9 310.8,512.0 C315.0,512.1 326.1,513.7 330.0,514.5 C333.9,515.3 340.9,517.5 344.0,519.0 C347.1,520.5 355.9,525.4 356.5,527.4 C357.1,529.4 351.7,534.6 349.0,536.0 C346.3,537.4 336.8,539.0 333.0,539.5 C329.2,540.0 320.2,540.7 316.3,540.4 C312.4,540.1 303.1,538.0 300.0,537.0 C296.9,536.0 291.8,533.4 290.0,532.0 C288.2,530.6 284.0,526.8 284.5,524.6Z" fill="none" stroke="#000" stroke-width="1.5"/><path d="M287.0,524.6 C287.5,522.8 292.7,516.5 295.5,515.3 C298.3,514.1 307.0,513.9 311.0,514.0 C315.0,514.1 325.7,515.7 329.5,516.5 C333.3,517.3 340.4,519.5 343.2,520.8 C346.0,522.1 353.3,525.8 353.8,527.4 C354.3,529.0 350.3,533.1 347.8,534.3 C345.3,535.5 336.2,537.2 332.5,537.7 C328.8,538.2 320.0,538.7 316.3,538.4 C312.6,538.1 303.4,536.1 300.5,535.2 C297.6,534.3 293.1,531.8 291.5,530.6 C289.9,529.4 286.5,526.4 287.0,524.6Z" fill="none" stroke="#000" stroke-width="1.1"/><path d="M252.6,527.4 L284.5,527.4" fill="none" stroke="#000" stroke-width="0.9"/><text x="232.2" y="529.6" font-family="Liberation Sans" font-weight="normal" stroke="#000" stroke-width="0.35" font-size="14">27</text><path d="M227.5,515 Q223.5,516 224,522 L224.3,533 Q224.3,538 221.5,538.5 Q224.3,539 224.3,544 L224,557 Q223.5,563 227.5,563.4" fill="none" stroke="#000" stroke-width="1.1"/><text x="205.6" y="542.6" font-family="Liberation Sans" font-weight="normal" stroke="#000" stroke-width="0.35" font-size="14">28</text><path d="M234.6,548.7 L243.8,548.2" stroke="#000" stroke-width="1.6"/><path d="M251,549.5 L280.3,557.8" fill="none" stroke="#000" stroke-width="0.9"/><path d="M291.5,575 L291.5,592 Q296,606 322,609 Q348,609 355,596 L355,578 Z" fill="#fff" stroke="#000" stroke-width="2"/><path d="M344,581 Q350,580 355,578 L355,596 Q352,603 346,606 Q349,595 344,581 Z" fill="#000"/><path d="M292,598 Q310,610 340,606" fill="none" stroke="#000" stroke-width="1.2"/><path d="M273.4,563 Q274,558 279,556.5 L291.4,551 Q303,547.5 319,548 Q340,548.5 355,553 L364.5,558 Q366.5,560 366,565 L364.8,580 Q364,584 359,583.5 Q350,581 345,583 Q330,587 310,585 Q298,583 292,581 L284,578 Q276,578 275,572 Z" fill="#fff" stroke="#000" stroke-width="2"/><path d="M280.5,562 Q284,554 292,552 Q305,549.5 320,549.5 Q340,550.5 350,555 Q356.5,559 355.5,563 Q353,570 343,573.5 Q330,577 316,576.5 Q300,575.5 291,571.5 Q282,567.5 280.5,562 Z" fill="#fff" stroke="#000" stroke-width="1.8"/><path d="M284,561.5 Q287,555.5 294,553.8 L303,552.5 L304,574.5 Q296,573 290,570 Q285,566 284,561.5 Z" fill="#000"/><path d="M303,552.5 L316,552 L316.5,575.5 L304,574.5 Z" fill="#fff" stroke="#000" stroke-width="1"/><path d="M291,568 L297,560 L303,566 L303,574 Q296,573 291,568 Z" fill="#fff"/><path d="M344,552.5 Q354,556 353.5,562.5 Q351,568.5 342,571.5" fill="none" stroke="#000" stroke-width="2.2"/><path d="M316,576 Q332,576.5 343,573" fill="none" stroke="#000" stroke-width="1.2"/><circle cx="278.5" cy="563.5" r="1.8" fill="none" stroke="#000" stroke-width="1.1"/><circle cx="360" cy="562.5" r="1.8" fill="none" stroke="#000" stroke-width="1.1"/><path d="M275,566 L287,574 L290,581 M366,566 L359,575 L358,583" fill="none" stroke="#000" stroke-width="1.2"/><path d="M279.5,571.5 L292,577.5 L292.5,585 L281,580.5 Z" fill="#000"/><path d="M345,578 L358,574 L357,582 L346,584 Z" fill="#000"/><path d="M276,595 Q279,592 282,595 L282.2,620 L275.8,620 Z" fill="#fff" stroke="#000" stroke-width="1.9"/><path d="M281.2,598.4L276.8,596.8M281.2,600.5L276.8,598.9M281.2,602.6L276.8,601.0M281.2,604.7L276.8,603.1" stroke="#000" stroke-width="1.1" fill="none"/><path d="M273,607 L276,605 L282,605 L285,607 L285,611 L282,613 L276,613 L273,611 Z" fill="#fff" stroke="#000" stroke-width="1.8"/><path d="M276,605.5 L276,612.5 M282,605.5 L282,612.5" stroke="#000" stroke-width="1"/><path d="M274.3,620 L274.5,625.5 Q279,628.5 283.5,625.5 L283.7,620 Q279,618 274.3,620 Z" fill="#fff" stroke="#000" stroke-width="1.8"/><path d="M277,621 L277,626.5 M281,621 L281,626.5" stroke="#000" stroke-width="1"/><path d="M250.7,576.4 L274.8,596.6" fill="none" stroke="#000" stroke-width="0.9"/><text x="232.5" y="576.4" font-family="Liberation Sans" font-weight="normal" stroke="#000" stroke-width="0.35" font-size="14">29</text><ellipse cx="611.50" cy="189.30" rx="11.3" ry="15.5" transform="rotate(15 611.50 189.30)" fill="#fff" stroke="#000" stroke-width="2.2"/><ellipse cx="610.44" cy="189.52" rx="11.3" ry="15.5" transform="rotate(15 610.44 189.52)" fill="#fff" stroke="#000" stroke-width="2.2"/><ellipse cx="609.38" cy="189.74" rx="11.3" ry="15.5" transform="rotate(15 609.38 189.74)" fill="#fff" stroke="#000" stroke-width="2.2"/><ellipse cx="608.31" cy="189.96" rx="11.3" ry="15.5" transform="rotate(15 608.31 189.96)" fill="#fff" stroke="#000" stroke-width="2.2"/><ellipse cx="607.25" cy="190.18" rx="11.3" ry="15.5" transform="rotate(15 607.25 190.18)" fill="#fff" stroke="#000" stroke-width="2.2"/><ellipse cx="606.19" cy="190.39" rx="11.3" ry="15.5" transform="rotate(15 606.19 190.39)" fill="#fff" stroke="#000" stroke-width="2.2"/><ellipse cx="605.12" cy="190.61" rx="11.3" ry="15.5" transform="rotate(15 605.12 190.61)" fill="#fff" stroke="#000" stroke-width="2.2"/><ellipse cx="604.06" cy="190.83" rx="11.3" ry="15.5" transform="rotate(15 604.06 190.83)" fill="#fff" stroke="#000" stroke-width="2.2"/><ellipse cx="603.00" cy="191.05" rx="11.3" ry="15.5" transform="rotate(15 603.00 191.05)" fill="#fff" stroke="#000" stroke-width="2.2"/><ellipse cx="601.94" cy="191.27" rx="11.3" ry="15.5" transform="rotate(15 601.94 191.27)" fill="#fff" stroke="#000" stroke-width="2.2"/><ellipse cx="600.88" cy="191.49" rx="11.3" ry="15.5" transform="rotate(15 600.88 191.49)" fill="#fff" stroke="#000" stroke-width="2.2"/><ellipse cx="599.81" cy="191.71" rx="11.3" ry="15.5" transform="rotate(15 599.81 191.71)" fill="#fff" stroke="#000" stroke-width="2.2"/><ellipse cx="598.75" cy="191.93" rx="11.3" ry="15.5" transform="rotate(15 598.75 191.93)" fill="#fff" stroke="#000" stroke-width="2.2"/><ellipse cx="597.69" cy="192.14" rx="11.3" ry="15.5" transform="rotate(15 597.69 192.14)" fill="#fff" stroke="#000" stroke-width="2.2"/><ellipse cx="596.62" cy="192.36" rx="11.3" ry="15.5" transform="rotate(15 596.62 192.36)" fill="#fff" stroke="#000" stroke-width="2.2"/><ellipse cx="595.56" cy="192.58" rx="11.3" ry="15.5" transform="rotate(15 595.56 192.58)" fill="#fff" stroke="#000" stroke-width="2.2"/><ellipse cx="611.50" cy="189.30" rx="10.20" ry="14.40" transform="rotate(15 611.50 189.30)" fill="#fff"/><ellipse cx="610.44" cy="189.52" rx="10.20" ry="14.40" transform="rotate(15 610.44 189.52)" fill="#fff"/><ellipse cx="609.38" cy="189.74" rx="10.20" ry="14.40" transform="rotate(15 609.38 189.74)" fill="#fff"/><ellipse cx="608.31" cy="189.96" rx="10.20" ry="14.40" transform="rotate(15 608.31 189.96)" fill="#fff"/><ellipse cx="607.25" cy="190.18" rx="10.20" ry="14.40" transform="rotate(15 607.25 190.18)" fill="#fff"/><ellipse cx="606.19" cy="190.39" rx="10.20" ry="14.40" transform="rotate(15 606.19 190.39)" fill="#fff"/><ellipse cx="605.12" cy="190.61" rx="10.20" ry="14.40" transform="rotate(15 605.12 190.61)" fill="#fff"/><ellipse cx="604.06" cy="190.83" rx="10.20" ry="14.40" transform="rotate(15 604.06 190.83)" fill="#fff"/><ellipse cx="603.00" cy="191.05" rx="10.20" ry="14.40" transform="rotate(15 603.00 191.05)" fill="#fff"/><ellipse cx="601.94" cy="191.27" rx="10.20" ry="14.40" transform="rotate(15 601.94 191.27)" fill="#fff"/><ellipse cx="600.88" cy="191.49" rx="10.20" ry="14.40" transform="rotate(15 600.88 191.49)" fill="#fff"/><ellipse cx="599.81" cy="191.71" rx="10.20" ry="14.40" transform="rotate(15 599.81 191.71)" fill="#fff"/><ellipse cx="598.75" cy="191.93" rx="10.20" ry="14.40" transform="rotate(15 598.75 191.93)" fill="#fff"/><ellipse cx="597.69" cy="192.14" rx="10.20" ry="14.40" transform="rotate(15 597.69 192.14)" fill="#fff"/><ellipse cx="596.62" cy="192.36" rx="10.20" ry="14.40" transform="rotate(15 596.62 192.36)" fill="#fff"/><ellipse cx="595.56" cy="192.58" rx="10.20" ry="14.40" transform="rotate(15 595.56 192.58)" fill="#fff"/><path d="M617.5,172 Q623,178 622.5,188 Q621.5,198 616.5,202 Q619.5,190 618.5,180 Z" fill="#000"/><path d="M602,178 Q608,186 606,200" fill="none" stroke="#000" stroke-width="0.9"/><ellipse cx="594.5" cy="192.8" rx="11.3" ry="15.5" transform="rotate(15 594.5 192.8)" fill="#fff" stroke="#000" stroke-width="2.4"/><ellipse cx="595" cy="193" rx="8.6" ry="12.6" transform="rotate(15 595 193)" fill="#fff" stroke="#000" stroke-width="1.3"/><path d="M589.5,182.5 Q586,189 587.5,198 Q590,191 596,186.5 Q600,183.5 603,183 Q597,178 589.5,182.5 Z" fill="#000"/><path d="M578.3,163.4 L584.5,180.6" fill="none" stroke="#000" stroke-width="1.0"/><text x="575.7" y="159.7" font-family="Liberation Sans" font-weight="normal" stroke="#000" stroke-width="0.35" font-size="14">30</text><ellipse cx="567.2" cy="209" rx="14.5" ry="16.5" transform="rotate(30 567.2 209)" fill="#111" stroke="#000" stroke-width="1.5"/><ellipse cx="567.2" cy="209" rx="11.5" ry="13.5" transform="rotate(30 567.2 209)" fill="none" stroke="#777" stroke-width="1.5" stroke-dasharray="1 1.2"/><ellipse cx="568.3" cy="207.8" rx="4.6" ry="7.8" transform="rotate(25 568.3 207.8)" fill="#fff" stroke="#000" stroke-width="1"/><path d="M560.3,174.5 L560.3,195.4" fill="none" stroke="#000" stroke-width="1.0"/><text x="0" y="0" transform="translate(558 173.2) scale(0.86 1)" font-family="Liberation Sans" font-weight="normal" stroke="#000" stroke-width="0.35" font-size="14">31</text><ellipse cx="541.00" cy="232.30" rx="11" ry="14.2" transform="rotate(15 541.00 232.30)" fill="#fff" stroke="#000" stroke-width="2.1"/><ellipse cx="540.11" cy="232.48" rx="11" ry="14.2" transform="rotate(15 540.11 232.48)" fill="#fff" stroke="#000" stroke-width="2.1"/><ellipse cx="539.21" cy="232.66" rx="11" ry="14.2" transform="rotate(15 539.21 232.66)" fill="#fff" stroke="#000" stroke-width="2.1"/><ellipse cx="538.32" cy="232.84" rx="11" ry="14.2" transform="rotate(15 538.32 232.84)" fill="#fff" stroke="#000" stroke-width="2.1"/><ellipse cx="537.43" cy="233.01" rx="11" ry="14.2" transform="rotate(15 537.43 233.01)" fill="#fff" stroke="#000" stroke-width="2.1"/><ellipse cx="536.54" cy="233.19" rx="11" ry="14.2" transform="rotate(15 536.54 233.19)" fill="#fff" stroke="#000" stroke-width="2.1"/><ellipse cx="535.64" cy="233.37" rx="11" ry="14.2" transform="rotate(15 535.64 233.37)" fill="#fff" stroke="#000" stroke-width="2.1"/><ellipse cx="534.75" cy="233.55" rx="11" ry="14.2" transform="rotate(15 534.75 233.55)" fill="#fff" stroke="#000" stroke-width="2.1"/><ellipse cx="533.86" cy="233.73" rx="11" ry="14.2" transform="rotate(15 533.86 233.73)" fill="#fff" stroke="#000" stroke-width="2.1"/><ellipse cx="532.96" cy="233.91" rx="11" ry="14.2" transform="rotate(15 532.96 233.91)" fill="#fff" stroke="#000" stroke-width="2.1"/><ellipse cx="532.07" cy="234.09" rx="11" ry="14.2" transform="rotate(15 532.07 234.09)" fill="#fff" stroke="#000" stroke-width="2.1"/><ellipse cx="531.18" cy="234.26" rx="11" ry="14.2" transform="rotate(15 531.18 234.26)" fill="#fff" stroke="#000" stroke-width="2.1"/><ellipse cx="530.29" cy="234.44" rx="11" ry="14.2" transform="rotate(15 530.29 234.44)" fill="#fff" stroke="#000" stroke-width="2.1"/><ellipse cx="529.39" cy="234.62" rx="11" ry="14.2" transform="rotate(15 529.39 234.62)" fill="#fff" stroke="#000" stroke-width="2.1"/><ellipse cx="541.00" cy="232.30" rx="9.95" ry="13.15" transform="rotate(15 541.00 232.30)" fill="#fff"/><ellipse cx="540.11" cy="232.48" rx="9.95" ry="13.15" transform="rotate(15 540.11 232.48)" fill="#fff"/><ellipse cx="539.21" cy="232.66" rx="9.95" ry="13.15" transform="rotate(15 539.21 232.66)" fill="#fff"/><ellipse cx="538.32" cy="232.84" rx="9.95" ry="13.15" transform="rotate(15 538.32 232.84)" fill="#fff"/><ellipse cx="537.43" cy="233.01" rx="9.95" ry="13.15" transform="rotate(15 537.43 233.01)" fill="#fff"/><ellipse cx="536.54" cy="233.19" rx="9.95" ry="13.15" transform="rotate(15 536.54 233.19)" fill="#fff"/><ellipse cx="535.64" cy="233.37" rx="9.95" ry="13.15" transform="rotate(15 535.64 233.37)" fill="#fff"/><ellipse cx="534.75" cy="233.55" rx="9.95" ry="13.15" transform="rotate(15 534.75 233.55)" fill="#fff"/><ellipse cx="533.86" cy="233.73" rx="9.95" ry="13.15" transform="rotate(15 533.86 233.73)" fill="#fff"/><ellipse cx="532.96" cy="233.91" rx="9.95" ry="13.15" transform="rotate(15 532.96 233.91)" fill="#fff"/><ellipse cx="532.07" cy="234.09" rx="9.95" ry="13.15" transform="rotate(15 532.07 234.09)" fill="#fff"/><ellipse cx="531.18" cy="234.26" rx="9.95" ry="13.15" transform="rotate(15 531.18 234.26)" fill="#fff"/><ellipse cx="530.29" cy="234.44" rx="9.95" ry="13.15" transform="rotate(15 530.29 234.44)" fill="#fff"/><ellipse cx="529.39" cy="234.62" rx="9.95" ry="13.15" transform="rotate(15 529.39 234.62)" fill="#fff"/><path d="M548,219 Q553,225 552,233 Q551,240 546.5,243.5 Q549.5,234 548.5,226 Z" fill="#000"/><ellipse cx="528.5" cy="234.8" rx="11" ry="14.2" transform="rotate(15 528.5 234.8)" fill="#fff" stroke="#000" stroke-width="2.4"/><ellipse cx="528.3" cy="235.2" rx="8" ry="11" transform="rotate(15 528.3 235.2)" fill="#fff" stroke="#000" stroke-width="1.3"/><path d="M524,225.5 Q519.5,231 521,240.5 Q524,234 529,230.5 Q532.5,228 535,227.5 Q530,222.5 524,225.5 Z" fill="#000"/><path d="M527,248.3 L527,271.7" fill="none" stroke="#000" stroke-width="1.0"/><text x="529.6" y="276" font-family="Liberation Sans" font-weight="normal" stroke="#000" stroke-width="0.35" font-size="14">32</text><ellipse cx="504" cy="250" rx="5.8" ry="5.8" fill="#fff" stroke="#000" stroke-width="2.4"/><ellipse cx="504.5" cy="249.8" rx="2.8" ry="3" fill="#333" stroke="#000" stroke-width="1.2"/><path d="M500,246 L502,248 M507,254 L505,252" stroke="#000" stroke-width="1.2"/><path d="M505.7,217.5 L505.7,243" fill="none" stroke="#000" stroke-width="1.0"/><text x="502.6" y="215" font-family="Liberation Sans" font-weight="normal" stroke="#000" stroke-width="0.35" font-size="14">33</text><ellipse cx="488.5" cy="258.2" rx="5.2" ry="5.8" fill="#fff" stroke="#000" stroke-width="1.8"/><ellipse cx="488.6" cy="258.4" rx="2" ry="2.6" fill="none" stroke="#000" stroke-width="1.1"/><path d="M487.2,229.8 L487.2,252" fill="none" stroke="#000" stroke-width="1.0"/><text x="483" y="226.6" font-family="Liberation Sans" font-weight="normal" stroke="#000" stroke-width="0.35" font-size="14">34</text><path d="M405,307 Q409,305 412,306.4 L429,314 L437,315 Q442,316.5 442,320 L441,327 Q440,328.5 435,328 L407,319 Q402.5,316 403,312 Q403,308.5 405,307 Z" fill="#fff" stroke="#000" stroke-width="1.5"/><path d="M429,314 Q430,320 437,321 L442,320" fill="none" stroke="#000" stroke-width="1.2"/><path d="M413,308 L429,315" stroke="#000" stroke-width="1.8"/><circle cx="407.5" cy="311.5" r="1.2" fill="#000"/><path d="M415.6,287 L411,306" fill="none" stroke="#000" stroke-width="1.0"/><text x="417.4" y="289" font-family="Liberation Sans" font-weight="normal" stroke="#000" stroke-width="0.35" font-size="14">35</text><path d="M470,306 Q474,304.5 477,305 L503,317 L507,315 L513,318 L510,320 L504,329 Q502,330 499,328 L472,313 Q469,311 470,306 Z" fill="#fff" stroke="#000" stroke-width="1.5"/><path d="M478,306.5 L503,318.5" stroke="#000" stroke-width="1"/><circle cx="473.5" cy="309" r="1.4" fill="#000"/><path d="M483,286 L478,306" fill="none" stroke="#000" stroke-width="1.0"/><text x="484.5" y="287" font-family="Liberation Sans" font-weight="normal" stroke="#000" stroke-width="0.35" font-size="14">36</text><path d="M537.3,289.6 Q539,287.5 543,288.5 L552.2,289.5 Q558,288 562,283.5 Q566,280.5 575.2,281 Q581,282 586,287 L607.4,301.2 Q615,304.5 621,306 Q623.5,309 622,313 L620,325 Q618,328 614,327.5 Q610.5,327 610,322 L610.5,315 L604,309 L584,294 Q578,288.5 572,288 Q566,288.5 563,291 Q557,295.5 550,295.5 L541,294 Q536.5,293 537.3,289.6 Z" fill="#fff" stroke="#000" stroke-width="1.5"/><path d="M564,286 Q570,283.5 577,284.5 L604,303 L617,309" fill="none" stroke="#000" stroke-width="1.1"/><circle cx="614.7" cy="322.5" r="1.5" fill="#000"/><path d="M542.3,293 L542.3,314.9" fill="none" stroke="#000" stroke-width="1.0"/><text x="541.2" y="328.7" font-family="Liberation Sans" font-weight="normal" stroke="#000" stroke-width="0.35" font-size="14">37</text><path d="M566,361 Q571,358.5 576,359 L588,352.5 L600.5,349.5 L603,337.8 Q604.5,335.5 607.5,335.2 L618.5,343.2 Q619.5,346 617.5,348 L613.5,350.8 L601,353.2 L591,356.5 L580,367 Q575,373 569,372 Q563.5,370.5 564,366 Q564.5,362.5 566,361 Z" fill="#fff" stroke="#000" stroke-width="1.5"/><path d="M584,359 Q592,355 601,352" fill="none" stroke="#000" stroke-width="1"/><circle cx="569.5" cy="366.5" r="1.4" fill="#000"/><path d="M568.3,335.6 L568.3,358.6" fill="none" stroke="#000" stroke-width="1.0"/><text x="568.8" y="333.3" font-family="Liberation Sans" font-weight="normal" stroke="#000" stroke-width="0.35" font-size="14">38</text><path d="M585,373.5 Q588,371.5 592,372.5 L639,390 Q643,392.5 642.5,398 L641,406 Q640,409 636,410 L617.5,417.5 Q613.5,419 613,415 Q613,411.5 616,410 L633,402.5 L634,396.5 L589,381 Q584.5,379 584,376.5 Q584,374.5 585,373.5 Z" fill="#fff" stroke="#000" stroke-width="1.5"/><path d="M634,396.5 L642.5,393" stroke="#000" stroke-width="1"/><circle cx="588.5" cy="377" r="1.3" fill="#000"/><path d="M589,387.4 L586.7,409.2" fill="none" stroke="#000" stroke-width="1.0"/><text x="578.5" y="423" font-family="Liberation Sans" font-weight="normal" stroke="#000" stroke-width="0.35" font-size="14">39</text><ellipse cx="390.0" cy="358.0" rx="1.70" ry="4.20" transform="rotate(20.4 390.0 358.0)" fill="none" stroke="#000" stroke-width="1.5"/><ellipse cx="392.9" cy="359.1" rx="1.70" ry="4.20" transform="rotate(20.4 392.9 359.1)" fill="none" stroke="#000" stroke-width="1.5"/><ellipse cx="395.8" cy="360.2" rx="1.70" ry="4.20" transform="rotate(20.4 395.8 360.2)" fill="none" stroke="#000" stroke-width="1.5"/><ellipse cx="398.7" cy="361.3" rx="1.70" ry="4.20" transform="rotate(20.4 398.7 361.3)" fill="none" stroke="#000" stroke-width="1.5"/><ellipse cx="401.6" cy="362.4" rx="1.70" ry="4.20" transform="rotate(20.4 401.6 362.4)" fill="none" stroke="#000" stroke-width="1.5"/><ellipse cx="404.5" cy="363.5" rx="1.70" ry="4.20" transform="rotate(20.4 404.5 363.5)" fill="none" stroke="#000" stroke-width="1.5"/><path d="M390.5,363.5 L390.5,386.5" fill="none" stroke="#000" stroke-width="1.1"/><text x="384.8" y="401" font-family="Liberation Sans" font-weight="normal" stroke="#000" stroke-width="0.35" font-size="14">40</text><path d="M432.5,373.3 L437,373.5 L463,383.5 L462,387 L436,377.5 Z" fill="#fff" stroke="#000" stroke-width="1.4"/><path d="M440,376 L461,384.5" stroke="#000" stroke-width="1.8" stroke-dasharray="1.3 0.8"/><path d="M462,382 L468,380 L472.5,384 L472,390 L467,392 L463,389 Z" fill="#fff" stroke="#000" stroke-width="2"/><path d="M464,385 L471.5,387 M467.5,381 L467,391" stroke="#000" stroke-width="1.3"/><path d="M437.2,377.3 L437.2,399.6" fill="none" stroke="#000" stroke-width="1.1"/><text x="431.8" y="412" font-family="Liberation Sans" font-weight="normal" stroke="#000" stroke-width="0.35" font-size="14">41</text><path d="M522.5,388 Q524,386 526,387 L557,397 L555.5,404 L524,393.5 Q521.5,392 522.5,388 Z" fill="#fff" stroke="#000" stroke-width="1.5"/><path d="M526.7,386.7L523.3,391.0M528.7,387.5L525.3,391.8M530.7,388.2L527.3,392.5M532.7,389.0L529.3,393.3M534.7,389.7L531.3,394.0M536.7,390.5L533.3,394.8" stroke="#000" stroke-width="1.0" fill="none"/><ellipse cx="563.00" cy="401.80" rx="4.8" ry="8.3" transform="rotate(20 563.00 401.80)" fill="#fff" stroke="#000" stroke-width="1.9"/><ellipse cx="562.30" cy="401.64" rx="4.8" ry="8.3" transform="rotate(20 562.30 401.64)" fill="#fff" stroke="#000" stroke-width="1.9"/><ellipse cx="561.60" cy="401.48" rx="4.8" ry="8.3" transform="rotate(20 561.60 401.48)" fill="#fff" stroke="#000" stroke-width="1.9"/><ellipse cx="560.90" cy="401.32" rx="4.8" ry="8.3" transform="rotate(20 560.90 401.32)" fill="#fff" stroke="#000" stroke-width="1.9"/><ellipse cx="560.20" cy="401.16" rx="4.8" ry="8.3" transform="rotate(20 560.20 401.16)" fill="#fff" stroke="#000" stroke-width="1.9"/><ellipse cx="563.00" cy="401.80" rx="3.85" ry="7.35" transform="rotate(20 563.00 401.80)" fill="#fff"/><ellipse cx="562.30" cy="401.64" rx="3.85" ry="7.35" transform="rotate(20 562.30 401.64)" fill="#fff"/><ellipse cx="561.60" cy="401.48" rx="3.85" ry="7.35" transform="rotate(20 561.60 401.48)" fill="#fff"/><ellipse cx="560.90" cy="401.32" rx="3.85" ry="7.35" transform="rotate(20 560.90 401.32)" fill="#fff"/><ellipse cx="560.20" cy="401.16" rx="3.85" ry="7.35" transform="rotate(20 560.20 401.16)" fill="#fff"/><ellipse cx="563" cy="401.8" rx="4.8" ry="8.3" transform="rotate(20 563 401.8)" fill="#fff" stroke="#000" stroke-width="1.9"/><path d="M559.5,400 L566.5,403.5" stroke="#000" stroke-width="1.3"/><path d="M525.8,393 L525.8,415" fill="none" stroke="#000" stroke-width="1.1"/><text x="528.7" y="425.3" font-family="Liberation Sans" font-weight="normal" stroke="#000" stroke-width="0.35" font-size="14">42</text><path d="M481,455.3 L486,455 L510,463 L509,469 L485,459.5 Z" fill="#fff" stroke="#000" stroke-width="1.4"/><path d="M489,458.5 L508,465.5" stroke="#000" stroke-width="1.8" stroke-dasharray="1.3 0.8"/><ellipse cx="512.2" cy="467.2" rx="5" ry="6.3" transform="rotate(20 512.2 467.2)" fill="#fff" stroke="#000" stroke-width="2"/><path d="M508.5,465 L516,469 M512,462 L511.5,472" stroke="#000" stroke-width="1"/><path d="M488,460.7 L488,484.4" fill="none" stroke="#000" stroke-width="1.0"/><text x="483.3" y="497.8" font-family="Liberation Sans" font-weight="normal" stroke="#000" stroke-width="0.35" font-size="14">43</text><path d="M422.5,537.8 L440,531 L455,526 L470,520 L485,514 L500,509 L515,503 L530,498 L541,494.5 L540,505 L541.5,520 L540,540 L541.5,560 L540.5,580 L542,600 L541,620 L544,642 L530,648 L515,654 L500,660 L485,665 L470,671 L455,677 L440,683 L427.5,688 L426,670 L427,650 L425,630 L426,610 L424,590 L425,570 L423,550 Z" fill="#fff" stroke="#000" stroke-width="2" stroke-linejoin="round"/><path d="M423.6,547.5 L540,503.3" stroke="#000" stroke-width="1" stroke-dasharray="3 2.2"/><path d="M455,556 L460,548 M463,545 L466,540 M500,532 L502,524 M503,520 L505,512" stroke="#000" stroke-width="0.7"/><path d="M427,598 L539,556 L540,642 L428,686 Z" fill="#cfcfcf"/><path d="M428,588.4 L537.8,548.5 L538,580 L428,619 Z" fill="#000"/><path d="M531,551 L538,548.5 L538,577 L531,579.5 Z" fill="#444"/><text transform="translate(438.5 608.5) skewY(-20) scale(0.52 1)" font-family="Liberation Sans" font-weight="bold" font-size="25" fill="#fff" stroke="#fff" stroke-width="2.6">D</text><text transform="translate(448.5 604.8) skewY(-20) scale(0.52 1)" font-family="Liberation Sans" font-weight="bold" font-size="25" fill="#fff" stroke="#fff" stroke-width="2.6">E</text><text transform="translate(460 600.7) skewY(-20) scale(0.52 1)" font-family="Liberation Sans" font-weight="bold" font-size="25" fill="#fff" stroke="#fff" stroke-width="2.6">L</text><text transform="translate(477.5 596.2) skewY(-20) scale(0.48 1)" font-family="Liberation Sans" font-weight="bold" font-size="26" fill="#fff" stroke="#fff" stroke-width="2.6">L</text><text transform="translate(485.5 589.5) skewY(-20) scale(0.7 1)" font-family="Liberation Sans" font-weight="bold" font-size="17" fill="#fff" stroke="#fff" stroke-width="2.6">o</text><text transform="translate(496 587) skewY(-20) scale(0.55 1)" font-family="Liberation Sans" font-weight="bold" font-size="22" fill="#fff" stroke="#fff" stroke-width="2.6">R</text><text transform="translate(510.5 577.5) skewY(-20) scale(0.6 1)" font-family="Liberation Sans" font-weight="bold" font-size="14" fill="#fff" stroke="#fff" stroke-width="2.6">T</text><text transform="translate(519.5 574.5) skewY(-20) scale(0.75 1)" font-family="Liberation Sans" font-weight="bold" font-size="15" fill="#fff" stroke="#fff" stroke-width="2.6">o</text><path d="M428,619 L538,580 L538,606 L433,644 L428,645 Z" fill="#e0e0e0"/><path d="M432,622 L505,596 L505,612 L433,639 Z" fill="#999"/><text transform="translate(434 637.5) skewY(-20) scale(0.45 1)" font-family="Liberation Sans" font-weight="bold" font-size="19" fill="#ddd" stroke="#ddd" stroke-width="2.4">CARBURATORI</text><text transform="translate(434 637.5) skewY(-20) scale(0.45 1)" font-family="Liberation Sans" font-weight="bold" font-size="19" fill="#000" stroke="#000" stroke-width="0.8">CARBURATORI</text><path d="M508.5,605 L522,594 L534,596 L519,610 Z" fill="#fff" stroke="#000" stroke-width="1.6"/><text transform="translate(515.5 605) skewY(-20) scale(0.9 1)" font-family="Liberation Sans" font-weight="bold" font-size="6" fill="#000" >MC</text><path d="M433,645 L533,609 L535,636 L435,671 Z" fill="#fff" stroke="#000" stroke-width="1.3"/><text transform="translate(449 651) skewY(-20) scale(0.62 1)" font-family="Liberation Sans" font-size="9" fill="#000" letter-spacing="1.6">CONFEZIONE</text><text transform="translate(500 634) skewY(-20) scale(0.62 1)" font-family="Liberation Sans" font-size="8" fill="#000">573-2-1</text><text transform="translate(441 666) skewY(-20) scale(0.62 1)" font-family="Liberation Sans" font-size="6" fill="#000" letter-spacing="0.5">Contenente particolari</text><text transform="translate(503 645) skewY(-20) scale(0.62 1)" font-family="Liberation Sans" font-size="8" fill="#000">PARTZ</text><path d="M428,686 L440,681 L455,676 L470,670 L485,664 L500,659 L515,653 L530,647 L544,642" fill="none" stroke="#000" stroke-width="2"/><path d="M400.8,599.4 L424.3,599.4" fill="none" stroke="#000" stroke-width="1.0"/><text x="385.4" y="603.7" font-family="Liberation Serif" font-weight="normal" stroke="#000" stroke-width="0.3" font-size="13.5">48</text><path d="M283.5,323 L289.5,315.5 Q292.5,310.8 297,309.5 L302.5,309 L304.5,299 Q306,296.5 311,296.5 L323,295.4 L348,305.5 L349,311.5 L361,320.5 L364.5,325 L366.5,337 L367,354 L370.5,356 L370.5,371 L362,373 L352,378 L345,385 L341,392 L338,399 L330,404 L320,395 L300,330 Z" fill="#fff" stroke="#000" stroke-width="1.8" stroke-linejoin="round"/><path d="M302.5,309 L323,296 L348,306 L326,317.5 Z" fill="#fff" stroke="#000" stroke-width="1.6"/><path d="M308.5,308.2 L323.5,299.5 L342.5,306.5 L326.5,314.3 Z" fill="none" stroke="#000" stroke-width="1.1"/><path d="M324.5,299 L324.8,318.5 M326,317.5 L326.5,331 M302.5,309 L303,314 M348,306 L348.5,313 M323,296 L324,299" stroke="#000" stroke-width="1.4"/><ellipse cx="309" cy="299" rx="3.2" ry="1.8" fill="none" stroke="#000" stroke-width="1.1"/><path d="M314,310 Q316,305 318,309 L317,313 Z" fill="#000"/><path d="M300,315 L300,323 Q305.5,326 311.5,323 L311.5,315" fill="#fff" stroke="#000" stroke-width="1.4"/><ellipse cx="305.7" cy="315.2" rx="5.8" ry="2.6" fill="#fff" stroke="#000" stroke-width="1.4"/><path d="M290,318 Q293,315 298,315.5" fill="none" stroke="#000" stroke-width="1"/><ellipse cx="358.7" cy="327.2" rx="4.2" ry="5.8" fill="#fff" stroke="#000" stroke-width="1.8"/><ellipse cx="359" cy="326.8" rx="1.9" ry="2.8" fill="#000"/><path d="M355,333 Q358,344 359.5,355 M363.8,333 Q366.5,344 366.7,355" fill="none" stroke="#000" stroke-width="1.6"/><path d="M358,334 Q361,344 362,355" fill="none" stroke="#000" stroke-width="1"/><ellipse cx="349.4" cy="342.4" rx="2.6" ry="3.8" transform="rotate(20 349.4 342.4)" fill="#fff" stroke="#000" stroke-width="1.6"/><path d="M334,318 L338,316 L343,322 L345,334 L341,336 L337,325 Z" fill="none" stroke="#000" stroke-width="1.1"/><path d="M347.2,323.5 L347.8,335" stroke="#000" stroke-width="2.2"/><path d="M340,305 L347,309 L347,313 L341,311 Z" fill="none" stroke="#000" stroke-width="1.1"/><path d="M359.5,356 L369.5,357 L369.5,370 L360,371.5 Z" fill="#fff" stroke="#000" stroke-width="1.5"/><ellipse cx="357.3" cy="368" rx="3.6" ry="4.8" fill="#fff" stroke="#000" stroke-width="1.6"/><circle cx="365" cy="361" r="1.3" fill="#000"/><path d="M342,369 L353,363.5 M343,373.5 L354,369 M344,378 Q352,376 360,373.5 M343,382 Q352,380 359,377" fill="none" stroke="#000" stroke-width="1.3"/><path d="M345,365 L352,361 L354,365 L347,369 Z" fill="#000"/><path d="M339,379 L345,381 L343,387 L338,385 Z" fill="#000"/><path d="M314.1,324.7 A44.2,48.2 -15 0 1 345.5,366.8" fill="none" stroke="#000" stroke-width="3.2"/><path d="M314.1,324.7 A44.2,48.2 -15 0 1 345.5,366.8" fill="none" stroke="#fff" stroke-width="0.9"/><ellipse cx="301.3" cy="370" rx="40.4" ry="44.4" transform="rotate(-15 301.3 370)" fill="#fff" stroke="#000" stroke-width="2.3"/><ellipse cx="302.8" cy="369" rx="34.6" ry="42" transform="rotate(-15 302.8 369)" fill="none" stroke="#000" stroke-width="1.1"/><ellipse cx="302" cy="367.5" rx="29.6" ry="38.6" transform="rotate(-15 302 367.5)" fill="#fff" stroke="#000" stroke-width="2.3"/><ellipse cx="302.6" cy="367.3" rx="27.6" ry="36.6" transform="rotate(-15 302.6 367.3)" fill="none" stroke="#000" stroke-width="0.8"/><path d="M279.4,336 L285,333 L289,335 L289.5,361.7 L283,359 L280,350 Z" fill="#fff" stroke="#000" stroke-width="1.1"/><path d="M289.5,334 L289.8,361" stroke="#000" stroke-width="2.6"/><path d="M301,333 L301.5,346 M305,334 Q306,341 304,348" fill="none" stroke="#000" stroke-width="1.1"/><path d="M305,346 L313,344 L318,350" fill="none" stroke="#000" stroke-width="1"/><circle cx="310.3" cy="361" r="8.6" fill="none" stroke="#000" stroke-width="1"/><circle cx="296.7" cy="353.4" r="2.4" fill="none" stroke="#000" stroke-width="1.2"/><circle cx="310.3" cy="375.3" r="1.9" fill="none" stroke="#000" stroke-width="1.1"/><path d="M282.3,371.8 L329,387.6 M281.6,374.6 L328.3,390.4" fill="none" stroke="#000" stroke-width="1.1"/>
</svg>
</body></html>
